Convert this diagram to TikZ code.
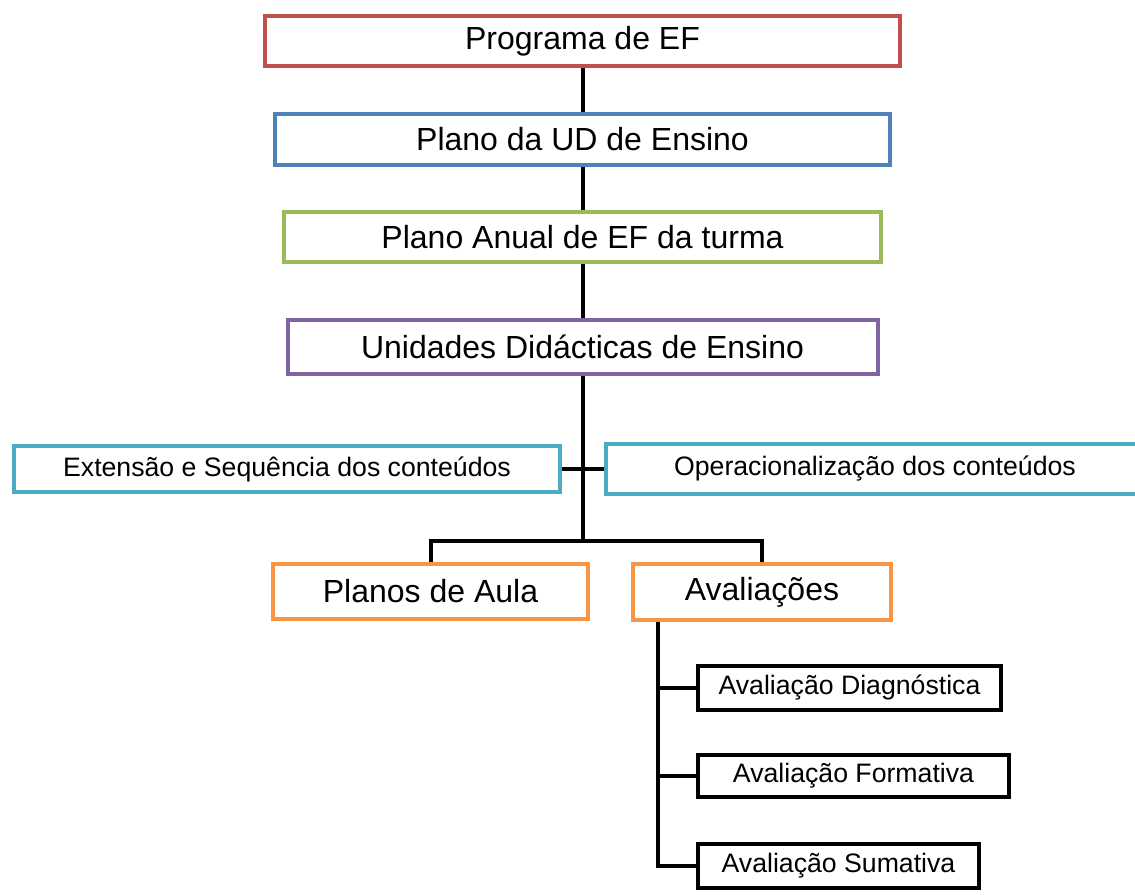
\documentclass[tikz,border=0pt]{standalone}
\usepackage{fontspec}
\setmainfont{Liberation Sans}
\usepackage{tikz}

\definecolor{efred}{HTML}{C0504D}
\definecolor{efblue}{HTML}{4F81BD}
\definecolor{efgreen}{HTML}{9BBB59}
\definecolor{efpurple}{HTML}{8064A2}
\definecolor{efcyan}{HTML}{4BACC6}
\definecolor{eforange}{HTML}{F79646}

\newdimen\pxu
\pxu=0.75pt

\tikzset{
    bigbox/.style={draw=#1, line width=3pt, fill=white, inner sep=0pt,
        font=\fontsize{24}{28}\selectfont},
    smallbox/.style={draw=#1, line width=3pt, fill=white, inner sep=0pt,
        font=\fontsize{20}{24}\selectfont},
    link/.style={line width=3pt}
}

\begin{document}
\begin{tikzpicture}[x=0.75pt, y=-0.75pt]
    \useasboundingbox (0,0) rectangle (1135,895);

    % --- Hauptkette ---
    \node[bigbox=efred, minimum width=635\pxu, minimum height=50\pxu] (prog) at (582.5,41) {Programa de EF};
    \node[bigbox=efblue, minimum width=615\pxu, minimum height=51\pxu] (ud) at (582.5,139.5) {Plano da UD de Ensino};
    \node[bigbox=efgreen, minimum width=597\pxu, minimum height=50\pxu] (anual) at (582.5,237) {Plano Anual de EF da turma};
    \node[bigbox=efpurple, minimum width=590\pxu, minimum height=54\pxu] (unid) at (582.5,347) {Unidades Didácticas de Ensino};

    % --- Conteúdos ---
    \node[smallbox=efcyan, minimum width=546\pxu, minimum height=46\pxu] (ext) at (287,469) {Extensão e Sequência dos conteúdos};
    \node[smallbox=efcyan, minimum width=538\pxu, minimum height=50\pxu] (oper) at (875,469) {Operacionalização dos conteúdos};

    % --- Aulas und Avaliações ---
    \node[bigbox=eforange, minimum width=315\pxu, minimum height=55\pxu] (planos) at (430.5,591.5) {Planos de Aula};
    \node[bigbox=eforange, minimum width=258\pxu, minimum height=56\pxu] (aval) at (762,592) {Avaliações};

    % --- Tipos de avaliação ---
    \node[smallbox=black, minimum width=303\pxu, minimum height=44\pxu] (diag) at (849.5,688) {Avaliação Diagnóstica};
    \node[smallbox=black, minimum width=311\pxu, minimum height=42\pxu] (form) at (853.5,776) {Avaliação Formativa};
    \node[smallbox=black, minimum width=281\pxu, minimum height=44\pxu] (sum) at (838.5,866) {Avaliação Sumativa};

    % --- Verbindungen ---
    \coordinate (split) at (582.5,541);
    \coordinate (trunk) at (658,866);
    \draw[link] (prog) -- (ud);
    \draw[link] (ud) -- (anual);
    \draw[link] (anual) -- (unid);
    \draw[link] (unid) -- (split);
    \draw[link] (ext) -- (oper);
    \draw[link] (planos.north) |- (split) -| (aval.north);
    \draw[link] (aval.south -| trunk) -- (trunk) -- (sum.west);
    \draw[link] (trunk |- diag.west) -- (diag.west);
    \draw[link] (trunk |- form.west) -- (form.west);
\end{tikzpicture}
\end{document}
